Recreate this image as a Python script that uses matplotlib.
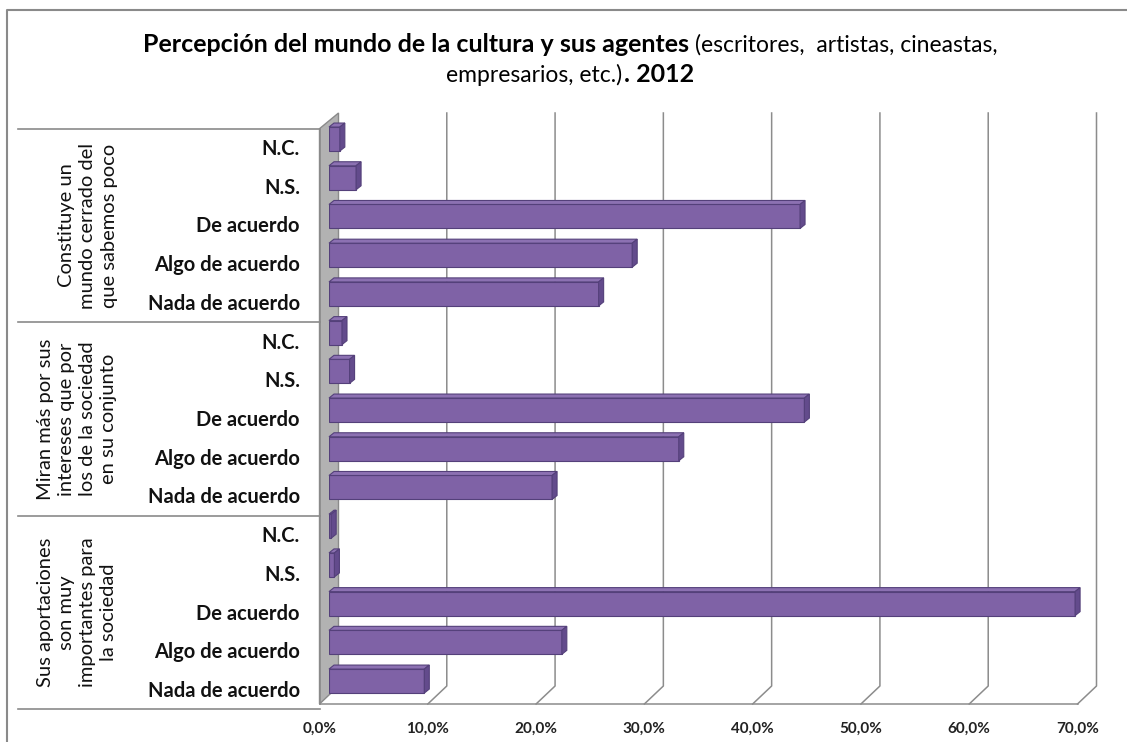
import numpy as np
import matplotlib.pyplot as plt
from matplotlib.patches import Polygon
from matplotlib.lines import Line2D
from matplotlib.transforms import ScaledTranslation, blended_transform_factory, IdentityTransform

plt.rcParams['font.family'] = ['Lato', 'DejaVu Sans']

# Answers and groups (top to bottom)
answers = ['N.C.', 'N.S.', 'De acuerdo', 'Algo de acuerdo', 'Nada de acuerdo']
groups = ['Constituye un\nmundo cerrado del\nque sabemos poco',
          'Miran más por sus\nintereses que por\nlos de la sociedad\nen su conjunto',
          'Sus aportaciones\nson muy\nimportantes para\nla sociedad']

# Percentages per group, same order as answers
closed_world = [1.0, 2.5, 43.5, 28.0, 24.9]
own_interests = [1.2, 1.9, 43.9, 32.3, 20.6]
contributions = [0.2, 0.5, 68.9, 21.5, 8.8]

xticks = [0, 10, 20, 30, 40, 50, 60, 70]
xtick_labels = ['0,0%', '10,0%', '20,0%', '30,0%', '40,0%', '50,0%', '60,0%', '70,0%']

W, H, DPI = 1127, 742, 100
BAR = '#7f62a6'
BAR_EDGE = '#54407a'
GRID = '#8c8c8c'

fig = plt.figure(figsize=(W / DPI, H / DPI), dpi=DPI)
ax = fig.add_axes([329 / W, 47 / H, 758 / W, 573 / H])
ax.set_xlim(0, 70)
ax.set_ylim(14.36, -0.44)
ax.axis('off')

values = closed_world + own_interests + contributions
ypos = np.arange(len(values))
ident = IdentityTransform()

# half depth of the 3D box (pixels); +1 = back wall, -1 = front edge
DX, DY = 9.5, 9.0


def to_px(x, y, depth=0.0):
    px, py = ax.transData.transform((x, y))
    return px + depth * DX, py + depth * DY


def poly(points, face, edge, z, lw=0.8):
    ax.add_patch(Polygon(points, closed=True, facecolor=face, edgecolor=edge,
                         linewidth=lw, transform=ident, clip_on=False, zorder=z))


def line(points, color=GRID, lw=1.1, z=0.8):
    xs, ys = zip(*points)
    ax.add_line(Line2D(xs, ys, color=color, linewidth=lw, transform=ident,
                       clip_on=False, zorder=z))


y_top, y_floor = -0.44, 14.36

# side wall
poly([to_px(0, -0.5, -1), to_px(0, y_top, 1), to_px(0, y_floor, 1), to_px(0, y_floor, -1)],
     '#b2b2b2', '#8a8a8a', 0.5, lw=1.0)

# gridlines on the back wall and down across the floor
for k in xticks[1:]:
    line([to_px(k, y_top, 1), to_px(k, y_floor, 1), to_px(k, y_floor, -1)])
line([to_px(0, y_floor, -1), to_px(70, y_floor, -1)])

# bars with a small top face and end cap
ax.barh(ypos, values, height=0.62, color=BAR, edgecolor=BAR_EDGE, linewidth=0.8, zorder=2)
bx, by = 5, 4
for y, v in zip(ypos, values):
    tl, tr, br = to_px(0, y - 0.31), to_px(v, y - 0.31), to_px(v, y + 0.31)
    poly([tl, tr, (tr[0] + bx, tr[1] + by), (tl[0] + bx, tl[1] + by)], '#8c71b2', BAR_EDGE, 2.1)
    poly([tr, br, (br[0] + bx, br[1] + by), (tr[0] + bx, tr[1] + by)], '#634b8c', BAR_EDGE, 2.2)

# category table on the left
front = ScaledTranslation(-DX / DPI, -DY / DPI, fig.dpi_scale_trans)
for b in [-0.5, 4.5, 9.5, 14.5]:
    x1, y1 = to_px(0, b, -1)
    line([(18, y1), (x1, y1)], color='#8a8a8a', lw=1.2, z=1)
line([to_px(0, -0.5, -1), to_px(0, y_floor, -1)], color='#8a8a8a', lw=1.2, z=1)

label_tr = blended_transform_factory(ax.transAxes, ax.transData) + \
    ScaledTranslation(0, -10 / DPI, fig.dpi_scale_trans)
for y in ypos:
    ax.text((300 - 329) / 758, y, answers[y % 5], transform=label_tr, ha='right', va='center',
            fontsize=14.5, fontweight='bold', color='#111111', clip_on=False)

group_tr = blended_transform_factory(ax.transAxes, ax.transData) + front
for g, name in enumerate(groups):
    ax.text((127 - 329) / 758, g * 5 + 2, name, transform=group_tr, rotation=90,
            ha='right', va='center', multialignment='center', fontsize=14.5,
            linespacing=1.3, color='#111111', clip_on=False)

# x tick labels under the front edge
for k, lab in zip(xticks, xtick_labels):
    x, _ = to_px(k, y_floor, -1)
    fig.text(x, H - 729, lab, transform=ident, ha='center', va='center',
             fontsize=11, fontweight='bold', color='#222222')

# title, mixing bold and regular runs
renderer = fig.canvas.get_renderer()


def title_line(parts, y, gap=5):
    texts = [fig.text(0, y, s, transform=ident, fontsize=sz, fontweight=w, va='baseline')
             for s, w, sz in parts]
    widths = [t.get_window_extent(renderer).width for t in texts]
    x = 570 - (sum(widths) + gap * (len(parts) - 1)) / 2
    for t, w in zip(texts, widths):
        t.set_x(x)
        x += w + gap


title_line([('Percepción del mundo de la cultura y sus agentes', 'bold', 18),
            ('(escritores,  artistas, cineastas,', 'normal', 16.5)], H - 52, gap=6)
title_line([('empresarios, etc.)', 'normal', 16.5), ('. 2012', 'bold', 18)], H - 82, gap=1)

# chart frame (left and top edges)
fig.add_artist(Line2D([7, 7, W], [0, H - 10, H - 10], color='#8a8a8a', linewidth=1.5,
                      transform=ident))

fig.savefig('out.png', dpi=DPI)
